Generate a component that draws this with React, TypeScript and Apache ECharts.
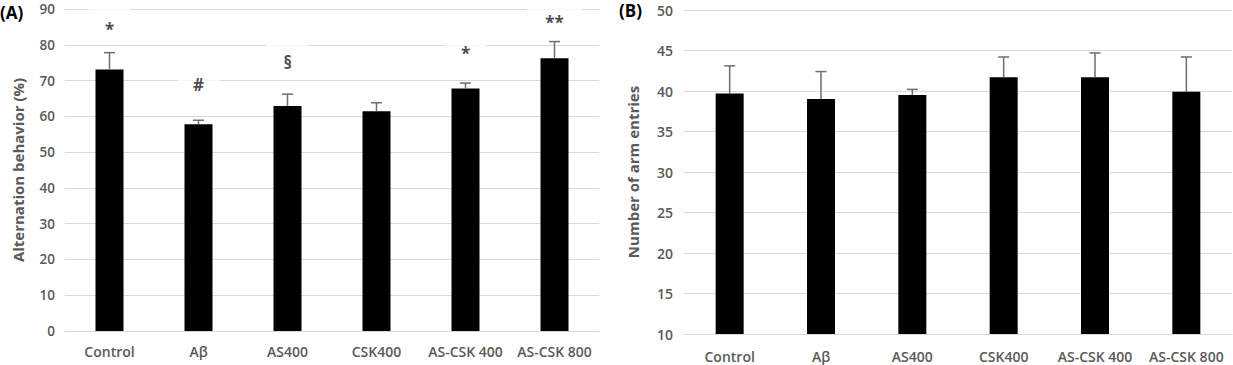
import React, { useEffect, useRef } from "react";
import * as echarts from "echarts";

const categories = ["Control", "Aβ", "AS400", "CSK400", "AS-CSK 400", "AS-CSK 800"];

// Panel A: alternation behaviour (%)
const meanA = [73.1, 57.8, 62.9, 61.4, 67.8, 76.2];
const errA = [4.7, 1.1, 3.3, 2.4, 1.5, 4.7];
const sigA = ["*", "#", "§", "", "*", "**"];
const sigPosA = [84.7, 69.5, 75.6, 0, 78.1, 86.7];

// Panel B: number of arm entries
const meanB = [39.7, 39.0, 39.5, 41.7, 41.7, 39.9];
const errB = [3.4, 3.4, 0.7, 2.5, 3.0, 4.3];

const GRAY = "#595959";
const GRID = "#d9d9d9";
const FONT = "'Open Sans', sans-serif";

function errorSeries(means: number[], errs: number[], idx: number) {
  return {
    type: "custom",
    xAxisIndex: idx,
    yAxisIndex: idx,
    z: 5,
    silent: true,
    data: means.map((m, i) => [i, m, m + errs[i]]),
    renderItem: (params: any, api: any) => {
      const x = api.value(0);
      const base = api.coord([x, api.value(1)]);
      const top = api.coord([x, api.value(2)]);
      const style = { stroke: "#6e6e6e", lineWidth: 1.5 };
      return {
        type: "group",
        children: [
          { type: "line", shape: { x1: base[0], y1: base[1], x2: top[0], y2: top[1] }, style },
          { type: "line", shape: { x1: top[0] - 5.5, y1: top[1], x2: top[0] + 5.5, y2: top[1] }, style },
        ],
      };
    },
  };
}

export default function App() {
  const ref = useRef<HTMLDivElement>(null);
  useEffect(() => {
    if (!ref.current) return;
    const chart = echarts.init(ref.current, undefined, { renderer: "svg" });
    const xAxisBase = {
      type: "category",
      data: categories,
      axisTick: { show: false },
      axisLine: { lineStyle: { color: GRID, width: 1 } },
      axisLabel: { color: GRAY, fontSize: 14, fontWeight: 600, fontFamily: FONT, interval: 0 },
    };
    const yAxisBase = {
      type: "value",
      axisLine: { show: false },
      axisTick: { show: false },
      splitLine: { lineStyle: { color: GRID, width: 1.2 } },
      axisLabel: { color: GRAY, fontSize: 14, fontWeight: 600, fontFamily: FONT },
      nameLocation: "middle",
      nameRotate: 90,
      nameTextStyle: { color: GRAY, fontSize: 15, fontWeight: 700, fontFamily: FONT },
    };
    const sigPoints = sigA
      .map((s, i) => ({ s, i }))
      .filter((d) => d.s !== "");
    const boxData = sigPoints.map((d) => ({
      value: [d.i, sigPosA[d.i]],
      label: { width: d.s.length > 1 ? 56 : 42 },
    }));
    const glyphData = sigPoints.map((d) => ({ value: [d.i, sigPosA[d.i]], label: { formatter: d.s } }));

    chart.setOption({
      animation: false,
      grid: [
        { left: 65, right: 634, top: 9, bottom: 34 },
        { left: 684, right: 1, top: 10, bottom: 31 },
      ],
      xAxis: [
        { ...xAxisBase, gridIndex: 0, axisLabel: { ...xAxisBase.axisLabel, margin: 13 } },
        { ...xAxisBase, gridIndex: 1, axisLabel: { ...xAxisBase.axisLabel, margin: 15 } },
      ],
      yAxis: [
        {
          ...yAxisBase,
          gridIndex: 0,
          min: 0,
          max: 90,
          interval: 10,
          name: "Alternation behavior (%)",
          nameGap: 40,
          axisLabel: { ...yAxisBase.axisLabel, fontSize: 13.5, lineHeight: 12, margin: 10 },
        },
        {
          ...yAxisBase,
          gridIndex: 1,
          min: 10,
          max: 50,
          interval: 5,
          name: "Number of arm entries",
          nameGap: 44,
          axisLabel: { ...yAxisBase.axisLabel, margin: 11 },
        },
      ],
      series: [
        {
          type: "bar",
          xAxisIndex: 0,
          yAxisIndex: 0,
          data: meanA,
          barWidth: 28,
          itemStyle: { color: "#000" },
          z: 3,
        },
        errorSeries(meanA, errA, 0),
        {
          type: "bar",
          xAxisIndex: 1,
          yAxisIndex: 1,
          data: meanB,
          barWidth: 28,
          itemStyle: { color: "#000" },
          z: 3,
        },
        errorSeries(meanB, errB, 1),
        {
          type: "scatter",
          xAxisIndex: 0,
          yAxisIndex: 0,
          symbolSize: 0,
          z: 9,
          silent: true,
          data: boxData,
          label: {
            show: true,
            position: "inside",
            formatter: " ",
            offset: [0, -5],
            height: 32,
            backgroundColor: "#ffffff",
          },
        },
        {
          type: "scatter",
          xAxisIndex: 0,
          yAxisIndex: 0,
          symbolSize: 0,
          z: 10,
          silent: true,
          data: glyphData,
          label: {
            show: true,
            position: "inside",
            offset: [0, 2],
            color: "#1a1a1a",
            fontSize: 17,
            fontWeight: 700,
            fontFamily: FONT,
          },
        },
      ],
      graphic: [
        {
          type: "text",
          left: 0,
          top: 4,
          style: { text: "(A)", fontSize: 17, fontWeight: 700, fontFamily: FONT, fill: "#000" },
        },
        {
          type: "text",
          left: 619,
          top: 2,
          style: { text: "(B)", fontSize: 17, fontWeight: 700, fontFamily: FONT, fill: "#000" },
        },
      ],
    });
    return () => chart.dispose();
  }, []);
  return (
    <div
      ref={ref}
      style={{ position: "fixed", left: 0, top: 0, width: 1233, height: 365, background: "#fff" }}
    />
  );
}
